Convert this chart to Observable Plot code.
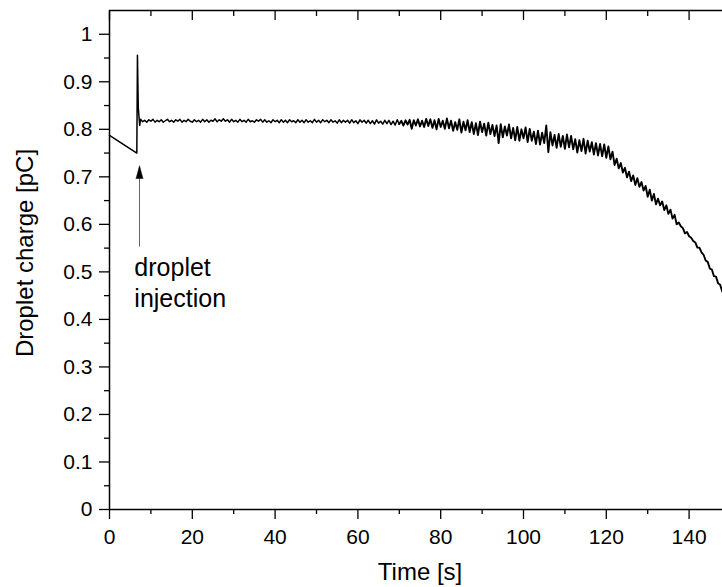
<!DOCTYPE html>
<html>
<head>
<meta charset="utf-8">
<script src="https://cdn.jsdelivr.net/npm/d3@7"></script>
<script src="https://cdn.jsdelivr.net/npm/@observablehq/plot@0.6"></script>
<style>
html, body { margin: 0; padding: 0; background: #fff; overflow: hidden; width: 722px; height: 587px; }
</style>
</head>
<body>
<div id="chart"></div>
<script>
// ---- Data ----
// Before and during the droplet injection (time in s, charge in pC)
const preTime   = [0, 6.6, 6.75, 6.95, 7.3];
const preCharge = [0.787, 0.750, 0.956, 0.845, 0.808];

// Recorded charge after injection, one reading every 0.5 s from 7.5 s (in fC = 0.001 pC)
const sampleStart = 7.5;
const sampleStep = 0.5;
const chargeFc = [
  821,816,819,815,820,817,821,815,819,816,
  820,815,818,821,816,819,815,820,817,821,
  815,819,816,821,817,815,820,816,819,815,
  821,816,820,815,819,817,822,816,820,817,
  822,817,820,815,821,816,819,815,821,816,
  819,815,821,816,818,815,820,817,821,815,
  820,815,818,814,820,816,819,814,820,815,
  819,814,820,816,818,814,820,815,819,814,
  820,815,818,814,821,815,819,814,820,816,
  819,814,820,815,818,813,820,814,819,815,
  819,813,820,814,818,812,820,815,819,813,
  819,812,818,811,820,813,817,811,819,812,
  819,810,817,809,820,811,818,808,819,810,
  820,801,819,808,821,806,818,805,822,807,
  821,803,819,800,822,805,818,801,823,802,
  818,797,815,799,821,793,816,798,819,794,
  815,790,813,788,816,794,812,787,814,790,
  809,786,808,771,811,783,806,787,810,781,
  803,777,805,776,800,781,804,773,801,776,
  795,769,797,768,793,771,808,752,794,766,
  788,761,790,763,786,759,789,762,786,758,
  779,751,777,754,780,749,776,753,773,747,
  771,745,769,743,768,740,764,737,753,725,
  738,718,729,709,719,699,711,691,703,683,
  697,679,689,671,681,658,673,650,664,642,
  654,640,648,630,640,622,631,612,620,600,
  604,596,592,581,584,575,572,565,562,551,
  551,541,536,524,521,507,505,491,490,476,
  473,459,452
];

// Axis ticks
const xMajor = [0, 20, 40, 60, 80, 100, 120, 140];
const xMinor = [10, 30, 50, 70, 90, 110, 130];
const yMajor = [0, 0.1, 0.2, 0.3, 0.4, 0.5, 0.6, 0.7, 0.8, 0.9, 1];
const yMinor = [0.05, 0.15, 0.25, 0.35, 0.45, 0.55, 0.65, 0.75, 0.85, 0.95];

// Annotation
const annotationText = ["droplet\ninjection"];
const annotationAt = [{t: 6.0, q: 0.4255}];
const arrowData = [{t: 7.25, tail: 0.552, base: 0.696}];

const xTitle = ["Time [s]"];
const yTitle = ["Droplet charge [pC]"];

// ---- Build table ----
const series = preTime.map((t, i) => ({t, q: preCharge[i]}))
  .concat(chargeFc.map((v, i) => ({t: sampleStart + i * sampleStep, q: v / 1000})));

const font = "'Liberation Sans', Arial, Helvetica, sans-serif";

const chart = Plot.plot({
  width: 730,
  height: 587,
  marginLeft: 109,
  marginRight: 0,
  marginTop: 10,
  marginBottom: 78,
  x: {domain: [0, 150]},
  y: {domain: [0, 1.05]},
  style: {fontFamily: font, fontSize: "21px", color: "#000", background: "#fff", maxWidth: "none", overflow: "visible"},
  marks: [
    Plot.line(series, {filter: d => d.t <= 70, x: "t", y: "q", stroke: "#000", strokeWidth: 1.5, strokeLinejoin: "round"}),
    Plot.line(series, {filter: d => d.t >= 70, x: "t", y: "q", stroke: "#000", strokeWidth: 1.9, strokeLinejoin: "round"}),
    Plot.ruleX(arrowData, {x: "t", y1: "tail", y2: "base", stroke: "#666", strokeWidth: 1}),
    Plot.vector(arrowData, {x: "t", y: "base", length: 13, r: 3.5, shape: "spike", anchor: "start", fill: "#000", stroke: "#000", strokeWidth: 0.5}),
    Plot.text(annotationAt, {x: "t", y: "q", text: () => annotationText[0], textAnchor: "start", lineAnchor: "bottom", lineHeight: 1.25, fontSize: 25, fill: "#000"}),
    Plot.frame({stroke: "#000", strokeWidth: 1.5}),
    Plot.axisX(xMajor, {anchor: "bottom", tickSize: 10, tickPadding: 10, strokeWidth: 1.3, label: null, tickFormat: d => String(d), fontSize: 21}),
    Plot.axisX(xMinor, {anchor: "bottom", tickSize: 5, strokeWidth: 1.3, fill: "none", label: null, tickFormat: () => ""}),
    Plot.axisX(xMajor, {anchor: "top", tickSize: 9, dy: 9, strokeWidth: 1.3, fill: "none", label: null, tickFormat: () => ""}),
    Plot.axisX(xMinor, {anchor: "top", tickSize: 5, dy: 5, strokeWidth: 1.3, fill: "none", label: null, tickFormat: () => ""}),
    Plot.axisY(yMajor, {anchor: "left", tickSize: 10, tickPadding: 7, strokeWidth: 1.3, label: null, tickFormat: d => String(d), fontSize: 21}),
    Plot.axisY(yMinor, {anchor: "left", tickSize: 5, strokeWidth: 1.3, fill: "none", label: null, tickFormat: () => ""}),
    Plot.axisY(yMajor, {anchor: "right", tickSize: 9, dx: -9, strokeWidth: 1.3, fill: "none", label: null, tickFormat: () => ""}),
    Plot.text(xTitle, {frameAnchor: "bottom", textAnchor: "middle", dy: 70, fontSize: 24, fill: "#000"}),
    Plot.text(yTitle, {frameAnchor: "left", textAnchor: "middle", rotate: -90, dx: -84, dy: -7, fontSize: 24, fill: "#000"})
  ]
});
document.getElementById("chart").appendChild(chart);
</script>
</body>
</html>
